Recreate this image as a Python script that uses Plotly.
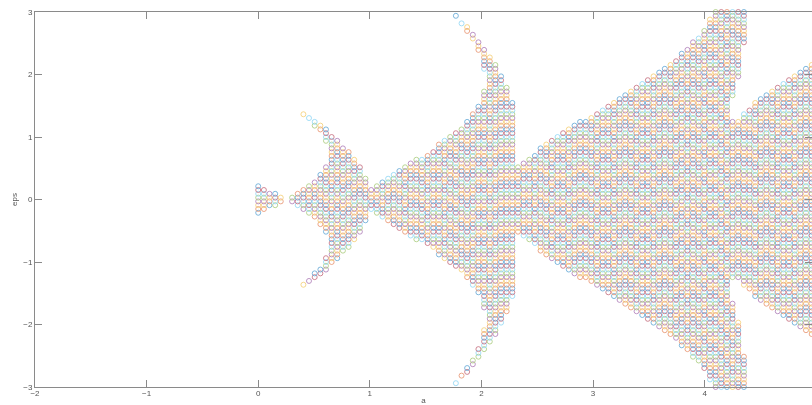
import plotly.graph_objects as go

# a value of every column of circles
a_values = [0,.051,.101,.152,.202,.253,.304,.354,.405,.455,.506,.557,.607,.658,.708,.759,.81,.86,.911,.961,
            1.012,1.063,1.113,1.164,1.214,1.265,1.316,1.366,1.417,1.467,1.518,1.569,1.619,1.67,1.72,1.771,1.822,1.872,1.923,1.973,
            2.024,2.075,2.125,2.176,2.226,2.277,2.328,2.378,2.429,2.479,2.53,2.581,2.631,2.682,2.732,2.783,2.834,2.884,2.935,2.985,
            3.036,3.087,3.137,3.188,3.238,3.289,3.34,3.39,3.441,3.491,3.542,3.593,3.643,3.694,3.744,3.795,3.846,3.896,3.947,3.997,
            4.048,4.099,4.149,4.2,4.25,4.301,4.352,4.402,4.453,4.503,4.554,4.605,4.655,4.706,4.756,4.807,4.858,4.908,4.959]
# positive eps levels of the sampling grid (the picture is mirrored about eps = 0)
eps_levels = [.03,.091,.152,.212,.273,.333,.394,.455,.515,.576,.636,.697,.758,.818,.879,.939,1.0,1.061,1.121,1.182,
              1.242,1.303,1.364,1.424,1.485,1.545,1.606,1.667,1.727,1.788,1.848,1.909,1.97,2.03,2.091,2.152,2.212,2.273,2.333,2.394,
              2.455,2.515,2.576,2.636,2.697,2.758,2.818,2.879,2.939,3.0]
# highest filled level of the central band per column (-1: empty column)
band_top = [3,2,1,1,0,-1,0,1,2,3,4,6,8,16,15,13,12,10,8,5,
            2,3,4,5,6,7,8,9,10,10,11,12,14,15,16,17,18,20,22,24,
            28,37,35,32,29,25,8,9,10,11,13,14,15,16,17,18,19,20,20,21,
            22,23,24,25,26,27,28,29,30,31,32,33,34,35,36,38,39,41,42,44,
            47,49,49,49,20,20,22,23,25,26,27,28,29,30,31,32,33,34,35]
# detached tongue: column, lowest and highest filled level
tongue_col = [8,9,10,11,12,35,36,37,38,39,40,84,85,86]
tongue_lo = [22,21,19,18,15,48,46,44,42,39,34,27,32,41]
tongue_hi = [22,21,20,19,18,48,46,45,43,41,39,49,49,49]

COLORS = ["#0072BD", "#D95319", "#EDB120", "#7E2F8E", "#77AC30", "#4DBEEE", "#A2142F"]

xs, ys = [], []
for c, a in enumerate(a_values):
    rows = list(range(band_top[c] + 1))
    if c in tongue_col:
        i = tongue_col.index(c)
        rows += list(range(tongue_lo[i], tongue_hi[i] + 1))
    col = [-eps_levels[r] for r in reversed(rows)] + [eps_levels[r] for r in rows]
    xs += [a] * len(col)
    ys += col
colors = [COLORS[i % 7] for i in range(len(xs))]

fig = go.Figure(go.Scatter(
    x=xs, y=ys, mode="markers", cliponaxis=False, opacity=0.6,
    marker=dict(symbol="circle-open", size=5, color=colors, line=dict(width=0.85, color=colors)),
))
axis = dict(showgrid=False, zeroline=False, showline=True, mirror="ticks", linecolor="#8a8a8a", linewidth=1,
            ticks="inside", ticklen=7, tickcolor="#8a8a8a", tickwidth=1, tickfont=dict(size=8, color="#555555"))
fig.update_layout(
    width=812, height=405, margin=dict(l=34.5, r=0, t=12, b=18),
    paper_bgcolor="white", plot_bgcolor="white", showlegend=False,
    font=dict(family="Liberation Sans", size=8, color="#555555"),
    xaxis=dict(axis, range=[-2, 4.962], tickvals=[-2, -1, 0, 1, 2, 3, 4], ticklabelstandoff=-2,
               title=dict(text="a", standoff=2, font=dict(size=8))),
    yaxis=dict(axis, range=[-3, 3], tickvals=[-3, -2, -1, 0, 1, 2, 3],
               title=dict(text="eps", standoff=4, font=dict(size=8))),
)
fig.write_html("out.html", config={"displayModeBar": False},
               post_script="document.body.style.margin='0';document.documentElement.style.overflow='hidden';")
